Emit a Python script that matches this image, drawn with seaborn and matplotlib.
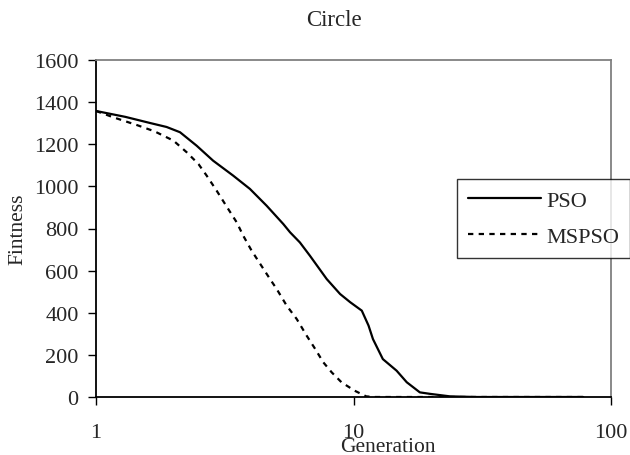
import numpy as np
import pandas as pd
import matplotlib
matplotlib.use("Agg")
import matplotlib.pyplot as plt
import seaborn as sns
from matplotlib.lines import Line2D

pso_gen = [1.0, 1.3, 1.62, 1.88, 2.12, 2.46, 2.85, 3.41, 3.96, 4.60, 5.34, 5.67, 6.19,
           6.77, 7.87, 8.87, 9.71, 10.77, 11.44, 11.9, 13.0, 14.7, 16.1, 18.1, 19.8,
           23.7, 30, 78]
pso_fit = [1358, 1330, 1301, 1282, 1257, 1193, 1122, 1051, 988, 908, 821, 782, 734,
           671, 560, 489, 450, 410, 339, 275, 180, 125, 70, 22, 15, 3, 0, 0]

mspso_gen = [1.0, 1.167, 1.45, 1.69, 2.0, 2.25, 2.50, 2.69, 2.94, 3.26, 3.52, 3.73, 4.02,
             4.74, 5.03, 5.50, 6.02, 6.58, 7.10, 7.63, 8.23, 8.98, 10.1, 11.2, 12, 78]
mspso_fit = [1358, 1328, 1290, 1261, 1217, 1162, 1106, 1051, 980, 893, 829, 766, 695,
             560, 513, 434, 370, 291, 228, 165, 117, 70, 30, 3, 0, 0]

series_names = ["PSO", "MSPSO"]
y_ticks = [0, 200, 400, 600, 800, 1000, 1200, 1400, 1600]
x_ticks = [1, 10, 100]

df = pd.concat([
    pd.DataFrame({"Generation": pso_gen, "Fitness": pso_fit, "Algorithm": "PSO"}),
    pd.DataFrame({"Generation": mspso_gen, "Fitness": mspso_fit, "Algorithm": "MSPSO"}),
])

sns.set_style("white")
plt.rcParams["font.family"] = ["Liberation Serif", "DejaVu Serif"]

fig = plt.figure(figsize=(6.3, 4.56), dpi=100)
ax = fig.add_axes([96 / 630, 1 - 398 / 456, 515 / 630, 337 / 456])

sns.lineplot(data=df, x="Generation", y="Fitness", hue="Algorithm", style="Algorithm",
             palette={"PSO": "black", "MSPSO": "black"},
             dashes={"PSO": "", "MSPSO": (2.4, 2.4)}, linewidth=1.6,
             sort=False, legend=False, ax=ax)

ax.set_xscale("log")
ax.set_xlim(1, 100)
ax.set_ylim(0, 1600)
ax.set_yticks(y_ticks)
ax.set_yticklabels([str(v) for v in y_ticks])
ax.set_xticks(x_ticks)
ax.set_xticklabels([str(v) for v in x_ticks])
ax.xaxis.set_minor_locator(matplotlib.ticker.NullLocator())

ax.tick_params(axis="y", direction="out", length=5.5, width=1, color="black",
               labelsize=16, pad=7, left=True)
ax.tick_params(axis="x", direction="out", length=5.5, width=1, color="black",
               labelsize=16, pad=13, bottom=True)

for side in ["left", "bottom"]:
    ax.spines[side].set_color("black")
    ax.spines[side].set_linewidth(1.3)
for side in ["top", "right"]:
    ax.spines[side].set_color("#808080")
    ax.spines[side].set_linewidth(1.3)
    ax.spines[side].set_visible(True)

ax.set_xlabel("Generation", fontsize=15.5)
ax.xaxis.set_label_coords(0.567, -0.118)
ax.set_ylabel("Fintness", fontsize=15.5)
ax.yaxis.set_label_coords(-0.134, 0.5)

fig.text(334 / 630, 1 - 21 / 456, "Circle", ha="center", va="center", fontsize=16.5)

handles = [Line2D([], [], color="black", lw=1.6),
           Line2D([], [], color="black", lw=1.6, dashes=(2.4, 2.4))]
leg = fig.legend(handles, series_names, loc="upper left",
                 bbox_to_anchor=(457 / 630, 1 - 180 / 456), bbox_transform=fig.transFigure,
                 frameon=True, fancybox=False, shadow=False, fontsize=16,
                 handlelength=3.3, handletextpad=0.2, labelspacing=0.72,
                 borderpad=0.5, borderaxespad=0)
leg.get_frame().set_edgecolor("black")
leg.get_frame().set_linewidth(1.0)

fig.savefig("out.png", dpi=100)
